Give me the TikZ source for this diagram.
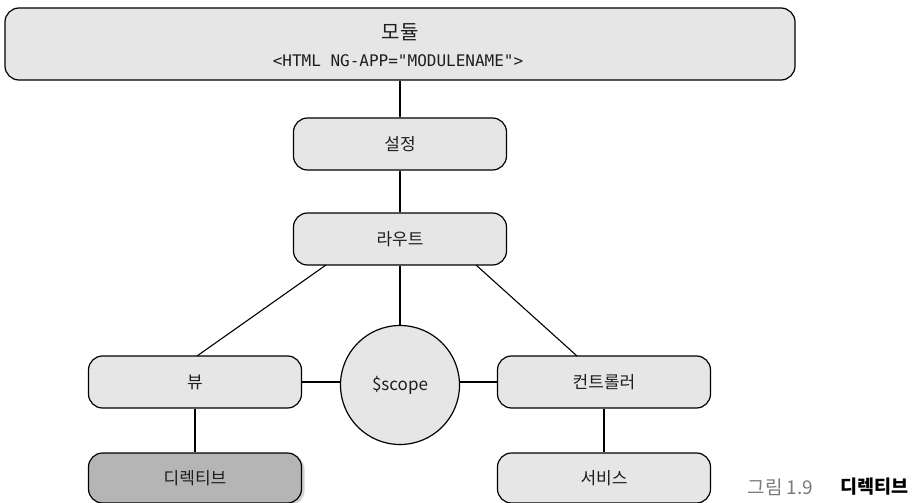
\documentclass[tikz,border=0pt]{standalone}
\usepackage{fontspec}
\setmainfont{Noto Sans CJK KR}
\newfontfamily\codefont{DejaVu Sans Mono}
\usetikzlibrary{shadows}
\definecolor{boxfill}{HTML}{E6E6E6}
\definecolor{darkfill}{HTML}{B5B5B5}
\definecolor{captiongray}{HTML}{7A7A7A}
\definecolor{inktext}{HTML}{1E1E1E}
\tikzset{
  stepbox/.style={draw=black, line width=1.2pt, fill=boxfill, rounded corners=14pt,
    minimum width=213pt, minimum height=52pt, inner sep=0pt, text=inktext,
    font=\fontsize{17}{19}\selectfont},
  darkbox/.style={stepbox, fill=darkfill, drop shadow={shadow xshift=3pt, shadow yshift=-2pt, opacity=0.35}},
  link/.style={draw=black, line width=1.1pt}
}
\begin{document}
\begin{tikzpicture}[x=1pt,y=-1pt]
\useasboundingbox (0,0) rectangle (914,503);
% module frame
\node[stepbox, minimum width=790pt, minimum height=72pt] (module) at (400,44) {};
\node[text=inktext, font=\fontsize{20}{22}\selectfont] (modtitle) at (400,32) {모듈};
\node[text=inktext, font=\codefont\fontsize{16}{18}\selectfont] (modcode) at (398,61) {<HTML NG-APP="MODULENAME">};
% chain of boxes
\node[stepbox] (config) at (400,144) {설정};
\node[stepbox] (route) at (400,239) {라우트};
\node[stepbox] (view) at (195,382) {뷰};
\node[stepbox] (ctrl) at (604,382) {컨트롤러};
\node[circle, draw=black, line width=1.2pt, fill=boxfill, minimum size=119pt, inner sep=0pt,
  text=inktext, font=\fontsize{17}{19}\selectfont] (scope) at (400,385) {\$scope};
\node[darkbox, minimum height=50pt] (directive) at (195,478) {디렉티브};
\node[stepbox, minimum height=50pt] (service) at (604,478) {서비스};
% connectors
\coordinate (rl) at (326,265);
\coordinate (rr) at (476,265);
\coordinate (vt) at (197,356);
\coordinate (ct) at (577,356);
\draw[link] (module.south) -- (config.north);
\draw[link] (config.south) -- (route.north);
\draw[link] (route.south) -- (scope.north);
\draw[link] (rl) -- (vt);
\draw[link] (rr) -- (ct);
\draw[link] (view.east) -- (view.east -| scope.west);
\draw[link] (scope.east |- ctrl.west) -- (ctrl.west);
\draw[link] (view.south) -- (directive.north);
\draw[link] (ctrl.south) -- (service.north);
% caption
\node[anchor=west, text=captiongray, font=\fontsize{19}{21}\selectfont] (capnum) at (744,487) {그림 1.9};
\node[anchor=west, text=black, font=\fontsize{18.5}{21}\selectfont\bfseries] (captext) at (837,487) {디렉티브};
\end{tikzpicture}
\end{document}
